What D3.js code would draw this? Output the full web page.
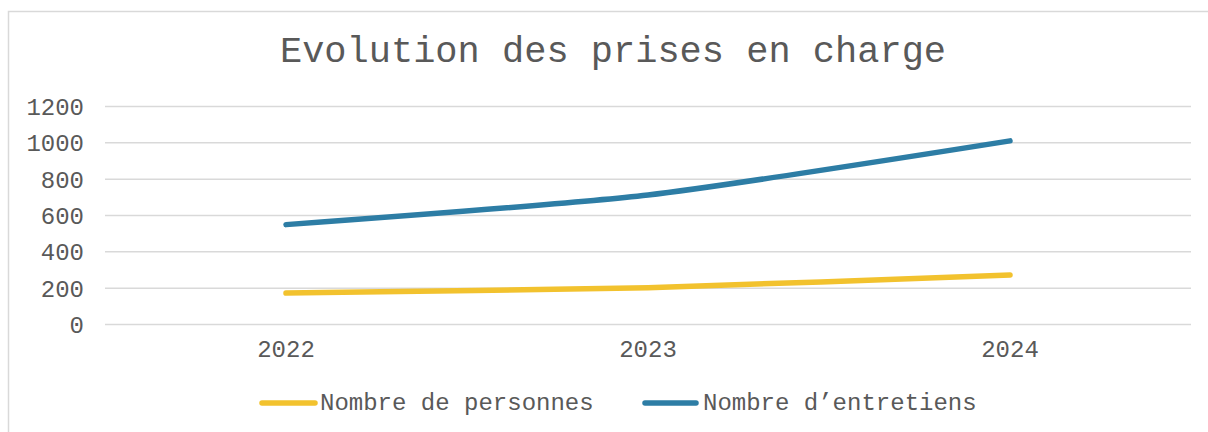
<!DOCTYPE html>
<html>
<head>
<meta charset="utf-8">
<script src="https://cdn.jsdelivr.net/npm/d3@7"></script>
<style>
  html, body { margin: 0; padding: 0; background: #fff; }
  svg { display: block; }
  text { font-family: "Liberation Mono", "DejaVu Sans Mono", monospace; fill: #595959; }
</style>
</head>
<body>
<svg id="chart" width="1208" height="432"></svg>
<script>
const title = "Evolution des prises en charge";
const categories = ["2022", "2023", "2024"];
const seriesNames = ["Nombre de personnes", "Nombre d\u2019entretiens"];
const personnes = [170, 200, 270];
const entretiens = [547, 710, 1008];
const yTicks = [0, 200, 400, 600, 800, 1000, 1200];
const colors = ["#F2C22E", "#2D7DA5"];

const svg = d3.select("#chart");

// outer chart border
svg.append("rect")
  .attr("x", 8.5).attr("y", 11.5)
  .attr("width", 1240).attr("height", 460)
  .attr("fill", "#fff").attr("stroke", "#d9d9d9").attr("stroke-width", 1.5);

const plot = { left: 105, right: 1191, top: 106, bottom: 324 };

const x = d3.scaleBand().domain(categories).range([plot.left, plot.right]).padding(0);
const y = d3.scaleLinear().domain([0, 1200]).range([plot.bottom, plot.top]);

// title
svg.append("text")
  .attr("x", 613).attr("y", 62)
  .attr("text-anchor", "middle")
  .style("font-size", "37px")
  .text(title);

// gridlines + y labels
const yAxis = d3.axisLeft(y).tickValues(yTicks).tickSize(-(plot.right - plot.left)).tickPadding(21).tickFormat(d3.format("d"));
const gy = svg.append("g").attr("transform", `translate(${plot.left},0)`).call(yAxis);
gy.select(".domain").remove();
gy.selectAll(".tick line").attr("stroke", "#d9d9d9").attr("stroke-width", 1.5);
gy.selectAll(".tick text")
  .style("font-size", "24px")
  .attr("fill", "#595959")
  .attr("dy", "0.35em");

// x axis labels
const xAxis = d3.axisBottom(x).tickSize(0).tickPadding(16);
const gx = svg.append("g").attr("transform", `translate(0,${plot.bottom})`).call(xAxis);
gx.select(".domain").remove();
gx.selectAll(".tick text").style("font-size", "24px").attr("fill", "#595959");

// lines
const line = d3.line()
  .x((d, i) => x(categories[i]) + x.bandwidth() / 2)
  .y(d => y(d))
  .curve(d3.curveCardinal.tension(0.4));

[personnes, entretiens].forEach((vals, si) => {
  svg.append("path")
    .datum(vals)
    .attr("d", line)
    .attr("fill", "none")
    .attr("stroke", colors[si])
    .attr("stroke-width", 5.5)
    .attr("stroke-linecap", "round")
    .attr("stroke-linejoin", "round");
});

// legend
const legendItems = [
  { x0: 262, x1: 315, tx: 320 },
  { x0: 645, x1: 696, tx: 703 }
];
seriesNames.forEach((name, i) => {
  const it = legendItems[i];
  svg.append("line")
    .attr("x1", it.x0).attr("x2", it.x1)
    .attr("y1", 403).attr("y2", 403)
    .attr("stroke", colors[i]).attr("stroke-width", 5.5)
    .attr("stroke-linecap", "round");
  svg.append("text")
    .attr("x", it.tx).attr("y", 410)
    .style("font-size", "24px")
    .text(name);
});
</script>
</body>
</html>
